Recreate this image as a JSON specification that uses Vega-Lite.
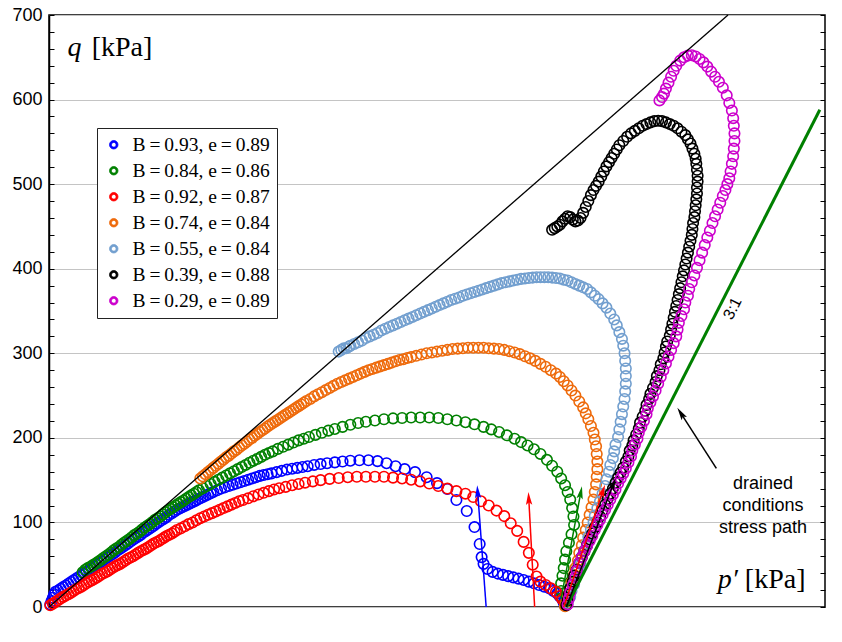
{
"$schema":"https://vega.github.io/schema/vega-lite/v6.json",
"width":776,"height":592,
"autosize":{"type":"none"},
"padding":{"left":49,"top":15,"right":17,"bottom":35},
"background":"white",
"config":{"view":{"stroke":"black","strokeWidth":1.5},"font":"Liberation Sans"},
"datasets":{
"blue":[{"x":1,"y":3},{"x":2,"y":7},{"x":3,"y":11},{"x":4,"y":15},{"x":5,"y":18},{"x":7,"y":19.5},{"x":9,"y":21.5},{"x":11,"y":23.5},{"x":13,"y":25.5},{"x":15,"y":27.5},{"x":17,"y":29.5},{"x":19,"y":31.5},{"x":21,"y":33.5},{"x":23,"y":35.5},{"x":25,"y":37.5},{"x":27,"y":39.5},{"x":29,"y":41.5},{"x":31,"y":43.5},{"x":33,"y":46},{"x":35,"y":48},{"x":37,"y":50},{"x":39,"y":52},{"x":41,"y":54},{"x":43,"y":56.5},{"x":45,"y":58.5},{"x":47,"y":60.5},{"x":49,"y":62.5},{"x":51,"y":64.5},{"x":53,"y":67},{"x":55,"y":69},{"x":57,"y":71},{"x":59,"y":73},{"x":61,"y":75},{"x":63,"y":77.5},{"x":65,"y":79.5},{"x":67,"y":81.5},{"x":69,"y":83.5},{"x":71,"y":85.5},{"x":73,"y":88},{"x":75,"y":90},{"x":77,"y":92},{"x":79,"y":94},{"x":81,"y":96},{"x":83,"y":98.5},{"x":85,"y":100.5},{"x":87,"y":102.5},{"x":89,"y":104.5},{"x":91,"y":106.5},{"x":93,"y":109},{"x":95,"y":111},{"x":97,"y":113},{"x":99,"y":115},{"x":101,"y":116.5},{"x":103,"y":118},{"x":105,"y":119.5},{"x":107,"y":121},{"x":109,"y":122.5},{"x":111,"y":124},{"x":113,"y":125.5},{"x":115,"y":127},{"x":117,"y":128.5},{"x":119,"y":130},{"x":121,"y":131.5},{"x":123,"y":133},{"x":125,"y":134.5},{"x":127,"y":136},{"x":130,"y":138},{"x":133,"y":140},{"x":136,"y":141.5},{"x":139,"y":143},{"x":142,"y":144.5},{"x":145,"y":146},{"x":148,"y":147.5},{"x":151,"y":149},{"x":154,"y":150.5},{"x":157,"y":152},{"x":160,"y":153.5},{"x":163,"y":155},{"x":166,"y":156},{"x":169,"y":157},{"x":172,"y":158},{"x":176,"y":159.5},{"x":180,"y":161},{"x":184,"y":162.5},{"x":188,"y":163.5},{"x":192,"y":164.5},{"x":196,"y":165.5},{"x":200,"y":166.5},{"x":205,"y":168},{"x":210,"y":169},{"x":215,"y":170},{"x":221,"y":171},{"x":227,"y":172},{"x":233,"y":173},{"x":240,"y":173.5},{"x":247,"y":173.5},{"x":254,"y":172.5},{"x":261,"y":170},{"x":268,"y":166.5},{"x":275,"y":163},{"x":283,"y":159.5},{"x":292,"y":153.5},{"x":300,"y":146.5},{"x":308,"y":139.5},{"x":315,"y":126.5},{"x":323,"y":113.5},{"x":329,"y":94.5},{"x":333,"y":74.5},{"x":334.5,"y":59},{"x":336,"y":51},{"x":339,"y":45},{"x":343,"y":41.5},{"x":347,"y":39.5},{"x":351,"y":38},{"x":355,"y":36.5},{"x":359,"y":35},{"x":363,"y":33.5},{"x":367,"y":32},{"x":371,"y":30},{"x":375,"y":28},{"x":379,"y":26},{"x":383,"y":24},{"x":387,"y":22},{"x":390,"y":19},{"x":393,"y":16},{"x":395,"y":12.5},{"x":397,"y":9},{"x":398,"y":5},{"x":399,"y":2}],
"green":[{"x":26,"y":41},{"x":28,"y":44},{"x":30,"y":46},{"x":32,"y":47.5},{"x":34,"y":49.5},{"x":36,"y":51.5},{"x":38,"y":53.5},{"x":40,"y":55.5},{"x":42,"y":58},{"x":44,"y":60},{"x":46,"y":62},{"x":48,"y":64.5},{"x":50,"y":67},{"x":52,"y":69},{"x":54,"y":71},{"x":56,"y":73.5},{"x":58,"y":76},{"x":60,"y":78},{"x":62,"y":80},{"x":64,"y":82.5},{"x":66,"y":85},{"x":68,"y":87},{"x":70,"y":89},{"x":72,"y":91.5},{"x":74,"y":94},{"x":76,"y":96},{"x":78,"y":98},{"x":80,"y":100.5},{"x":82,"y":103},{"x":84,"y":105},{"x":86,"y":107},{"x":88,"y":109.5},{"x":90,"y":112},{"x":92,"y":114},{"x":94,"y":116},{"x":96,"y":118},{"x":98,"y":120},{"x":100,"y":122},{"x":102,"y":124},{"x":104,"y":126},{"x":106,"y":128},{"x":108,"y":130},{"x":110,"y":132},{"x":112,"y":134},{"x":114,"y":136},{"x":116,"y":138},{"x":119,"y":140.5},{"x":122,"y":143},{"x":125,"y":145.5},{"x":128,"y":148},{"x":131,"y":150.5},{"x":134,"y":153},{"x":137,"y":155.5},{"x":140,"y":158},{"x":143,"y":160.5},{"x":146,"y":163},{"x":149,"y":165.5},{"x":152,"y":168},{"x":155,"y":170.5},{"x":158,"y":173},{"x":161,"y":175},{"x":164,"y":177.5},{"x":167,"y":180},{"x":170,"y":182},{"x":173,"y":184},{"x":177,"y":187},{"x":181,"y":189.5},{"x":185,"y":192},{"x":189,"y":194.5},{"x":193,"y":197},{"x":197,"y":199},{"x":201,"y":201},{"x":206,"y":203.5},{"x":211,"y":206},{"x":216,"y":208.5},{"x":221,"y":210.5},{"x":227,"y":213},{"x":233,"y":215.5},{"x":239,"y":217.5},{"x":245,"y":219},{"x":252,"y":220.5},{"x":259,"y":222},{"x":266,"y":223},{"x":273,"y":223.5},{"x":280,"y":224},{"x":287,"y":224},{"x":294,"y":224},{"x":301,"y":223.5},{"x":308,"y":222},{"x":315,"y":220.5},{"x":322,"y":218.5},{"x":329,"y":216},{"x":336,"y":213},{"x":342,"y":210},{"x":348,"y":207},{"x":354,"y":203},{"x":360,"y":199},{"x":365,"y":195},{"x":370,"y":191},{"x":375,"y":186.5},{"x":380,"y":181},{"x":385,"y":174},{"x":389,"y":167},{"x":393,"y":160},{"x":396,"y":152},{"x":399,"y":144},{"x":401,"y":136},{"x":403,"y":127},{"x":404.5,"y":117},{"x":405.5,"y":107},{"x":406,"y":97},{"x":404,"y":86},{"x":402,"y":76},{"x":400,"y":66},{"x":399,"y":56},{"x":398,"y":46},{"x":397,"y":37},{"x":396,"y":28},{"x":396,"y":19},{"x":397,"y":11},{"x":399,"y":4}],
"red":[{"x":1,"y":2},{"x":3,"y":4},{"x":5,"y":6},{"x":7,"y":8},{"x":9,"y":10},{"x":11,"y":12},{"x":13,"y":13.5},{"x":15,"y":15},{"x":17,"y":17},{"x":19,"y":19},{"x":21,"y":21},{"x":23,"y":22.5},{"x":25,"y":24},{"x":27,"y":26},{"x":29,"y":28},{"x":31,"y":30},{"x":33,"y":31.5},{"x":35,"y":33},{"x":37,"y":35},{"x":39,"y":37},{"x":41,"y":39},{"x":43,"y":40.5},{"x":45,"y":42},{"x":47,"y":44},{"x":49,"y":46},{"x":51,"y":48},{"x":53,"y":49.5},{"x":55,"y":51},{"x":57,"y":53},{"x":59,"y":55},{"x":61,"y":57},{"x":63,"y":58.5},{"x":65,"y":60},{"x":67,"y":62},{"x":69,"y":64},{"x":71,"y":66},{"x":73,"y":67.5},{"x":75,"y":69},{"x":77,"y":71},{"x":79,"y":73},{"x":81,"y":75},{"x":83,"y":76.5},{"x":85,"y":78},{"x":87,"y":80},{"x":89,"y":82},{"x":91,"y":84},{"x":93,"y":85.5},{"x":95,"y":87},{"x":97,"y":89},{"x":99,"y":91},{"x":102,"y":93},{"x":105,"y":95.5},{"x":108,"y":98},{"x":111,"y":100},{"x":114,"y":102.5},{"x":117,"y":105},{"x":120,"y":107},{"x":123,"y":109},{"x":126,"y":111},{"x":129,"y":113},{"x":132,"y":115},{"x":135,"y":117},{"x":138,"y":119},{"x":141,"y":121},{"x":144,"y":123},{"x":147,"y":125},{"x":150,"y":126.5},{"x":154,"y":128.5},{"x":158,"y":131},{"x":162,"y":133},{"x":166,"y":135},{"x":170,"y":137},{"x":174,"y":139},{"x":178,"y":140.5},{"x":183,"y":142},{"x":188,"y":144},{"x":193,"y":145.5},{"x":198,"y":147},{"x":204,"y":148.5},{"x":210,"y":150},{"x":217,"y":151.5},{"x":224,"y":152.5},{"x":231,"y":153.5},{"x":238,"y":154},{"x":245,"y":154},{"x":252,"y":154},{"x":259,"y":154},{"x":266,"y":153},{"x":273,"y":152},{"x":280,"y":150.5},{"x":287,"y":148.5},{"x":294,"y":146},{"x":301,"y":143},{"x":308,"y":140},{"x":315,"y":137},{"x":322,"y":134},{"x":328,"y":130},{"x":334,"y":125},{"x":340,"y":120},{"x":346,"y":114},{"x":352,"y":107.5},{"x":357,"y":99},{"x":362,"y":90},{"x":367,"y":77},{"x":371,"y":64},{"x":374,"y":50},{"x":377,"y":36},{"x":380,"y":30},{"x":384,"y":26},{"x":388,"y":22},{"x":392,"y":18},{"x":395,"y":13},{"x":397,"y":9},{"x":399,"y":4}],
"orange":[{"x":117,"y":152},{"x":119,"y":154.5},{"x":121,"y":157},{"x":123,"y":159.5},{"x":125,"y":162},{"x":127,"y":164.5},{"x":129,"y":167},{"x":131,"y":169.5},{"x":133,"y":172},{"x":135,"y":174.5},{"x":137,"y":177},{"x":139,"y":179},{"x":141,"y":181.5},{"x":143,"y":184},{"x":145,"y":186},{"x":147,"y":188.5},{"x":149,"y":191},{"x":151,"y":193},{"x":153,"y":195.5},{"x":155,"y":198},{"x":157,"y":200},{"x":159,"y":202.5},{"x":161,"y":204.5},{"x":163,"y":207},{"x":165,"y":209},{"x":167,"y":211},{"x":169,"y":213.5},{"x":171,"y":215.5},{"x":173,"y":217.5},{"x":175,"y":219.5},{"x":177,"y":221.5},{"x":179,"y":223.5},{"x":181,"y":225.5},{"x":183,"y":227.5},{"x":185,"y":229.5},{"x":187,"y":231.5},{"x":189,"y":233.5},{"x":191,"y":235.5},{"x":193,"y":237.5},{"x":195,"y":239.5},{"x":197,"y":241.5},{"x":199,"y":243.5},{"x":202,"y":246},{"x":205,"y":249},{"x":208,"y":251.5},{"x":211,"y":254},{"x":214,"y":256.5},{"x":217,"y":259},{"x":220,"y":261.5},{"x":223,"y":264},{"x":226,"y":266},{"x":229,"y":268},{"x":232,"y":270},{"x":235,"y":272},{"x":238,"y":274},{"x":241,"y":276},{"x":244,"y":278},{"x":247,"y":280},{"x":250,"y":281.5},{"x":253,"y":283},{"x":256,"y":284.5},{"x":259,"y":286},{"x":262,"y":287.5},{"x":265,"y":289},{"x":268,"y":290.5},{"x":271,"y":292},{"x":274,"y":293},{"x":277,"y":294.5},{"x":280,"y":295.5},{"x":284,"y":297},{"x":288,"y":298.5},{"x":292,"y":300},{"x":296,"y":301},{"x":300,"y":302},{"x":304,"y":303},{"x":308,"y":304},{"x":312,"y":305},{"x":316,"y":305.5},{"x":320,"y":306},{"x":324,"y":306.5},{"x":328,"y":306.5},{"x":332,"y":306.5},{"x":336,"y":306.5},{"x":340,"y":306},{"x":344,"y":305.5},{"x":348,"y":305},{"x":352,"y":304},{"x":356,"y":302.5},{"x":360,"y":301},{"x":364,"y":299},{"x":368,"y":296.5},{"x":372,"y":294},{"x":376,"y":291},{"x":380,"y":287.5},{"x":384,"y":284},{"x":388,"y":280},{"x":392,"y":276},{"x":395,"y":272},{"x":398,"y":267},{"x":401,"y":262},{"x":404,"y":256},{"x":407,"y":250},{"x":410,"y":243},{"x":413,"y":236},{"x":415,"y":229},{"x":417,"y":222},{"x":419,"y":214},{"x":421,"y":206},{"x":422,"y":198},{"x":423,"y":190},{"x":423.5,"y":181},{"x":424,"y":172},{"x":424,"y":163},{"x":423.5,"y":154},{"x":423,"y":145},{"x":422,"y":136},{"x":421,"y":127},{"x":419.5,"y":118},{"x":418,"y":109},{"x":416.5,"y":100},{"x":415,"y":91},{"x":413,"y":82},{"x":412,"y":73},{"x":410,"y":64},{"x":409,"y":55},{"x":407,"y":46},{"x":406,"y":38},{"x":404,"y":29},{"x":403,"y":21},{"x":401,"y":13},{"x":400,"y":6},{"x":399,"y":1}],
"lightblue":[{"x":224,"y":302},{"x":226,"y":304},{"x":228,"y":306},{"x":230,"y":306},{"x":232,"y":308},{"x":233,"y":309},{"x":236,"y":311},{"x":239,"y":313},{"x":242,"y":315},{"x":245,"y":318},{"x":248,"y":320},{"x":251,"y":322},{"x":254,"y":324},{"x":257,"y":327},{"x":260,"y":329},{"x":263,"y":331},{"x":266,"y":333},{"x":269,"y":335},{"x":272,"y":337},{"x":275,"y":339},{"x":278,"y":341},{"x":281,"y":343},{"x":284,"y":345},{"x":287,"y":347},{"x":290,"y":349},{"x":293,"y":351},{"x":296,"y":353},{"x":299,"y":355},{"x":302,"y":357},{"x":305,"y":359},{"x":308,"y":361},{"x":311,"y":363},{"x":314,"y":364.5},{"x":317,"y":366},{"x":320,"y":368},{"x":323,"y":369.5},{"x":326,"y":371},{"x":329,"y":372.5},{"x":332,"y":374},{"x":335,"y":375.5},{"x":338,"y":377},{"x":341,"y":378.5},{"x":344,"y":380},{"x":347,"y":381.5},{"x":350,"y":383},{"x":353,"y":384},{"x":356,"y":385},{"x":359,"y":386},{"x":362,"y":387},{"x":365,"y":388},{"x":368,"y":388.5},{"x":371,"y":389},{"x":374,"y":389.5},{"x":377,"y":390},{"x":380,"y":390},{"x":383,"y":390},{"x":386,"y":390},{"x":389,"y":389.5},{"x":392,"y":389},{"x":395,"y":388.5},{"x":398,"y":387},{"x":401,"y":386},{"x":404,"y":384},{"x":407,"y":382},{"x":410,"y":380},{"x":413,"y":378},{"x":416,"y":376},{"x":419,"y":372},{"x":422,"y":368},{"x":425,"y":364},{"x":428,"y":359},{"x":431,"y":354},{"x":434,"y":347},{"x":437,"y":340},{"x":439,"y":333},{"x":441,"y":325},{"x":443,"y":317},{"x":444,"y":309},{"x":445,"y":300},{"x":445.5,"y":291},{"x":446,"y":282},{"x":446,"y":273},{"x":446,"y":264},{"x":445.5,"y":255},{"x":445,"y":246},{"x":444,"y":237},{"x":443,"y":228},{"x":442,"y":219},{"x":441,"y":210},{"x":440,"y":201},{"x":438,"y":192},{"x":437,"y":184},{"x":436,"y":176},{"x":434,"y":168},{"x":433,"y":160},{"x":431,"y":151},{"x":430,"y":143},{"x":428,"y":134},{"x":426,"y":125},{"x":424,"y":117},{"x":422,"y":108},{"x":421,"y":100},{"x":419,"y":92},{"x":417,"y":83},{"x":416,"y":75},{"x":414,"y":67},{"x":412,"y":59},{"x":411,"y":51},{"x":409,"y":43},{"x":407,"y":35},{"x":406,"y":27},{"x":404,"y":19},{"x":403,"y":12},{"x":401,"y":5}],
"black":[{"x":400,"y":2},{"x":401,"y":8},{"x":402,"y":15},{"x":403,"y":22},{"x":405,"y":30},{"x":406,"y":37},{"x":408,"y":44},{"x":410,"y":52},{"x":412,"y":59},{"x":414,"y":66},{"x":416,"y":73},{"x":418,"y":80},{"x":420,"y":87},{"x":422,"y":94},{"x":424,"y":100},{"x":426,"y":107},{"x":428,"y":114},{"x":430,"y":121},{"x":432,"y":128},{"x":434,"y":134},{"x":436,"y":140},{"x":438,"y":147},{"x":440,"y":153},{"x":442,"y":159},{"x":444,"y":165},{"x":446,"y":172},{"x":448,"y":178},{"x":449,"y":185},{"x":451,"y":191},{"x":452,"y":197},{"x":454,"y":204},{"x":456,"y":211},{"x":457,"y":218},{"x":459,"y":225},{"x":461,"y":232},{"x":462,"y":239},{"x":464,"y":246},{"x":465,"y":252},{"x":467,"y":259},{"x":469,"y":266},{"x":470,"y":273},{"x":472,"y":280},{"x":473,"y":287},{"x":475,"y":294},{"x":476,"y":301},{"x":477,"y":308},{"x":478,"y":314},{"x":480,"y":321},{"x":481,"y":328},{"x":482,"y":335},{"x":483,"y":342},{"x":484,"y":349},{"x":485,"y":356},{"x":486,"y":363},{"x":487,"y":370},{"x":488,"y":377},{"x":489,"y":384},{"x":490,"y":391},{"x":491,"y":398},{"x":492,"y":405},{"x":493,"y":412},{"x":494,"y":419},{"x":495,"y":426},{"x":496,"y":433},{"x":497,"y":440},{"x":497.5,"y":447},{"x":498,"y":454},{"x":499,"y":461},{"x":499.5,"y":468},{"x":500,"y":475},{"x":500.5,"y":482},{"x":501,"y":489},{"x":501,"y":496},{"x":501.5,"y":503},{"x":501.5,"y":510},{"x":501,"y":517},{"x":500.5,"y":524},{"x":500,"y":530},{"x":499,"y":536},{"x":497.5,"y":542},{"x":496,"y":548},{"x":494,"y":553},{"x":492,"y":558},{"x":489,"y":562},{"x":486,"y":566},{"x":483,"y":569},{"x":480,"y":571},{"x":477,"y":573},{"x":474,"y":574.5},{"x":471,"y":575},{"x":468,"y":574.5},{"x":465,"y":573},{"x":462,"y":571},{"x":459,"y":569},{"x":456,"y":566},{"x":453,"y":563},{"x":450,"y":560},{"x":447,"y":556},{"x":444,"y":551},{"x":441,"y":546},{"x":439,"y":541},{"x":437,"y":536},{"x":435,"y":531},{"x":433,"y":526},{"x":431,"y":521},{"x":429,"y":515},{"x":427,"y":509},{"x":425,"y":503},{"x":423,"y":498},{"x":421,"y":493},{"x":419,"y":487},{"x":417,"y":480},{"x":415,"y":473},{"x":413,"y":466},{"x":411,"y":460},{"x":409,"y":457},{"x":407,"y":456},{"x":405,"y":458},{"x":403,"y":461},{"x":401,"y":462},{"x":399,"y":459},{"x":397,"y":456},{"x":395,"y":452},{"x":393,"y":450},{"x":391,"y":448},{"x":389,"y":446}],
"magenta":[{"x":401,"y":3},{"x":402,"y":10},{"x":403,"y":17},{"x":405,"y":26},{"x":407,"y":35},{"x":408,"y":43},{"x":410,"y":52},{"x":412,"y":59},{"x":414,"y":66},{"x":416,"y":72},{"x":418,"y":78},{"x":420,"y":84},{"x":422,"y":91},{"x":424,"y":97},{"x":426,"y":103},{"x":428,"y":109},{"x":430,"y":115},{"x":432,"y":121},{"x":434,"y":127},{"x":436,"y":133},{"x":438,"y":139},{"x":440,"y":146},{"x":442,"y":152},{"x":444,"y":158},{"x":446,"y":164},{"x":448,"y":171},{"x":450,"y":178},{"x":451,"y":185},{"x":453,"y":192},{"x":455,"y":199},{"x":456,"y":206},{"x":458,"y":213},{"x":460,"y":220},{"x":462,"y":228},{"x":463,"y":235},{"x":465,"y":242},{"x":467,"y":249},{"x":469,"y":256},{"x":471,"y":264},{"x":473,"y":272},{"x":475,"y":280},{"x":477,"y":288},{"x":479,"y":296},{"x":481,"y":304},{"x":483,"y":312},{"x":485,"y":320},{"x":486,"y":328},{"x":487,"y":336},{"x":489,"y":344},{"x":491,"y":352},{"x":492,"y":360},{"x":494,"y":368},{"x":495,"y":376},{"x":497,"y":384},{"x":499,"y":392},{"x":501,"y":401},{"x":503,"y":410},{"x":505,"y":419},{"x":507,"y":428},{"x":509,"y":437},{"x":511,"y":445},{"x":513,"y":454},{"x":515,"y":462},{"x":517,"y":470},{"x":519,"y":478},{"x":521,"y":486},{"x":523,"y":493},{"x":524.5,"y":500},{"x":526,"y":507},{"x":527,"y":515},{"x":528,"y":524},{"x":529,"y":533},{"x":529.5,"y":542},{"x":530,"y":551},{"x":530,"y":560},{"x":529.5,"y":569},{"x":529,"y":578},{"x":528,"y":587},{"x":526,"y":596},{"x":524,"y":605},{"x":521,"y":614},{"x":518,"y":621},{"x":515,"y":627},{"x":512,"y":633},{"x":509,"y":639},{"x":506,"y":644},{"x":503,"y":648},{"x":500,"y":651},{"x":497,"y":652.5},{"x":494,"y":652},{"x":491,"y":650},{"x":488,"y":646},{"x":485,"y":640},{"x":483,"y":634},{"x":481,"y":627},{"x":479,"y":620},{"x":477,"y":613},{"x":475.5,"y":607},{"x":474,"y":603},{"x":472,"y":599}],
"mline":[{"x":0,"y":0,"x2":525,"y2":700}],
"drained":[{"x":400,"y":0,"x2":596,"y2":588}],
"arrows":[{"s":"B = 0.93, e = 0.89","x":338,"y":0,"x2":331.5,"y2":135},{"s":"B = 0.92, e = 0.87","x":375.5,"y":0,"x2":371,"y2":127},{"s":"B = 0.84, e = 0.86","x":396,"y":10,"x2":411,"y2":134},{"s":"B = 0.92, e = 0.87","x":398,"y":0,"x2":428,"y2":136},{"s":"B = 0.39, e = 0.88","x":400,"y":0,"x2":436,"y2":144}],
"darrow":[{"x":516,"y":164,"x2":489,"y2":228}],
"ratio":[{"x":528.5,"y":353,"t":"3:1"}],
"note":[{"x":552,"y":145,"t":"drained\nconditions\nstress path"}],
"units":[{"x":33,"y":651,"t":"[kPa]"},{"x":538,"y":23,"t":"[kPa]"}],
"syms":[{"x":14.3,"y":651,"t":"q"},{"x":517,"y":23,"t":"p′"}]
},
"encoding":{
"x":{"field":"x","type":"quantitative","scale":{"domain":[0,600],"nice":false},
"axis":{"values":[0,20,40,60,80,100,120,140,160,180,200,220,240,260,280,300,320,340,360,380,400,420,440,460,480,500,520,540,560,580,600],"labelExpr":"datum.value % 100 === 0 ? datum.label : ''","labelOverlap":false,"labelFlush":false,"title":null,"grid":true,"gridColor":"#c4c4c4","gridWidth":1.2,"gridOpacity":{"condition":{"test":"datum.value % 100 === 0","value":1},"value":0},"tickSize":-5,"tickColor":"black","tickWidth":1,"domainColor":"black","domainWidth":1.5,"labelFont":"Liberation Sans","labelFontSize":18,"labelColor":"black","labelPadding":12}},
"y":{"field":"y","type":"quantitative","scale":{"domain":[0,700],"nice":false},"axis":null}
},
"layer":[
{"data":{"name":"blue"},"mark":{"type":"point","shape":"circle","filled":false,"size":110,"strokeWidth":1.6,"opacity":1},
"encoding":{"y":{"field":"y","type":"quantitative","scale":{"domain":[0,700],"nice":false},
"axis":{"orient":"left","values":[0,20,40,60,80,100,120,140,160,180,200,220,240,260,280,300,320,340,360,380,400,420,440,460,480,500,520,540,560,580,600,620,640,660,680,700],"labelExpr":"datum.value % 100 === 0 ? datum.label : ''","labelOverlap":false,"labelFlush":false,"title":null,"grid":true,"gridColor":"#c4c4c4","gridWidth":1.2,"gridOpacity":{"condition":{"test":"datum.value % 100 === 0","value":1},"value":0},"tickSize":-5,"tickColor":"black","tickWidth":1,"domainColor":"black","domainWidth":1.5,"labelFont":"Liberation Sans","labelFontSize":18,"labelColor":"black","labelPadding":12}},
"stroke":{"datum":"B = 0.93, e = 0.89","type":"nominal","scale":{"domain":["B = 0.93, e = 0.89","B = 0.84, e = 0.86","B = 0.92, e = 0.87","B = 0.74, e = 0.84","B = 0.55, e = 0.84","B = 0.39, e = 0.88","B = 0.29, e = 0.89"],"range":["#0000ff","#008000","#ff0000","#ee6a0b","#729fcf","#000000","#cc00cc"]},
"legend":{"title":null,"orient":"none","legendX":48,"legendY":113,"direction":"vertical","labelFont":"Liberation Serif","labelFontSize":19.5,"labelColor":"black","labelLimit":300,"labelExpr":"replace(replace(datum.label,' = ','\u2009=\u2009'),' = ','\u2009=\u2009')","symbolType":"M-1,0A1,1 0 1,1 1,0A1,1 0 1,1 -1,0Z M-0.55,0A0.55,0.55 0 1,0 0.55,0A0.55,0.55 0 1,0 -0.55,0Z","symbolSize":72,"symbolStrokeWidth":0.8,"strokeColor":"#222","fillColor":"white","padding":7,"rowPadding":5,"labelOffset":9}}}},
{"data":{"name":"green"},"mark":{"type":"point","shape":"circle","filled":false,"size":110,"strokeWidth":1.6,"opacity":1},"encoding":{"stroke":{"datum":"B = 0.84, e = 0.86","type":"nominal"}}},
{"data":{"name":"red"},"mark":{"type":"point","shape":"circle","filled":false,"size":110,"strokeWidth":1.6,"opacity":1},"encoding":{"stroke":{"datum":"B = 0.92, e = 0.87","type":"nominal"}}},
{"data":{"name":"orange"},"mark":{"type":"point","shape":"circle","filled":false,"size":110,"strokeWidth":1.6,"opacity":1},"encoding":{"stroke":{"datum":"B = 0.74, e = 0.84","type":"nominal"}}},
{"data":{"name":"lightblue"},"mark":{"type":"point","shape":"circle","filled":false,"size":110,"strokeWidth":1.6,"opacity":1},"encoding":{"stroke":{"datum":"B = 0.55, e = 0.84","type":"nominal"}}},
{"data":{"name":"black"},"mark":{"type":"point","shape":"circle","filled":false,"size":110,"strokeWidth":1.6,"opacity":1},"encoding":{"stroke":{"datum":"B = 0.39, e = 0.88","type":"nominal"}}},
{"data":{"name":"magenta"},"mark":{"type":"point","shape":"circle","filled":false,"size":110,"strokeWidth":1.6,"opacity":1},"encoding":{"stroke":{"datum":"B = 0.29, e = 0.89","type":"nominal"}}},
{"data":{"name":"mline"},"mark":{"type":"rule","color":"black","strokeWidth":1.3},
"encoding":{"x2":{"field":"x2"},"y2":{"field":"y2"},"y":{"field":"y","type":"quantitative","scale":{"domain":[0,700],"nice":false},
"axis":{"orient":"right","values":[0,20,40,60,80,100,120,140,160,180,200,220,240,260,280,300,320,340,360,380,400,420,440,460,480,500,520,540,560,580,600,620,640,660,680,700],"labels":false,"grid":false,"domain":false,"title":null,"tickSize":-5,"tickColor":"black","tickWidth":1}}}},
{"data":{"name":"drained"},"mark":{"type":"rule","color":"#008000","strokeWidth":3},"encoding":{"x2":{"field":"x2"},"y2":{"field":"y2"}}},
{"data":{"name":"arrows"},"mark":{"type":"rule","strokeWidth":1.5},"encoding":{"x2":{"field":"x2"},"y2":{"field":"y2"},
"color":{"field":"s","type":"nominal","legend":null,"scale":{"domain":["B = 0.93, e = 0.89","B = 0.84, e = 0.86","B = 0.92, e = 0.87","B = 0.74, e = 0.84","B = 0.55, e = 0.84","B = 0.39, e = 0.88","B = 0.29, e = 0.89"],"range":["#0000ff","#008000","#ff0000","#ee6a0b","#729fcf","#000000","#cc00cc"]}}}},
{"data":{"name":"arrows"},"transform":[{"calculate":"atan2((datum.x2-datum.x)*1.293,(datum.y2-datum.y)*0.846)*180/PI","as":"ang"}],
"mark":{"type":"point","shape":"M0,-1L0.42,0.7L0,0.35L-0.42,0.7Z","filled":true,"size":230,"opacity":1,"strokeWidth":0},
"encoding":{"x":{"field":"x2","type":"quantitative","axis":null},"y":{"field":"y2","type":"quantitative","axis":null},"angle":{"field":"ang","type":"quantitative","scale":null},
"fill":{"field":"s","type":"nominal","legend":null,"scale":{"domain":["B = 0.93, e = 0.89","B = 0.84, e = 0.86","B = 0.92, e = 0.87","B = 0.74, e = 0.84","B = 0.55, e = 0.84","B = 0.39, e = 0.88","B = 0.29, e = 0.89"],"range":["#0000ff","#008000","#ff0000","#ee6a0b","#729fcf","#000000","#cc00cc"]}}}},
{"data":{"name":"darrow"},"mark":{"type":"rule","color":"black","strokeWidth":1.5},"encoding":{"x2":{"field":"x2"},"y2":{"field":"y2"}}},
{"data":{"name":"darrow"},"transform":[{"calculate":"atan2((datum.x2-datum.x)*1.293,(datum.y2-datum.y)*0.846)*180/PI","as":"ang"}],
"mark":{"type":"point","shape":"M0,-1L0.42,0.7L0,0.35L-0.42,0.7Z","filled":true,"size":230,"opacity":1,"strokeWidth":0,"fill":"black"},
"encoding":{"x":{"field":"x2","type":"quantitative","axis":null},"y":{"field":"y2","type":"quantitative","axis":null},"angle":{"field":"ang","type":"quantitative","scale":null}}},
{"data":{"name":"ratio"},"mark":{"type":"text","font":"Liberation Sans","fontSize":16,"angle":-63,"align":"center","baseline":"middle","color":"black"},"encoding":{"text":{"field":"t"}}},
{"data":{"name":"note"},"mark":{"type":"text","font":"Liberation Sans","fontSize":18,"align":"center","baseline":"middle","lineBreak":"\n","lineHeight":22,"color":"black"},"encoding":{"text":{"field":"t"}}},
{"data":{"name":"units"},"mark":{"type":"text","font":"Liberation Serif","fontSize":28,"align":"left","baseline":"alphabetic","color":"black"},"encoding":{"text":{"field":"t"}}},
{"data":{"name":"syms"},"mark":{"type":"text","font":"Liberation Serif","fontSize":28,"fontStyle":"italic","align":"left","baseline":"alphabetic","color":"black"},"encoding":{"text":{"field":"t"}}}
],
"resolve":{"axis":{"y":"independent"}}
}
